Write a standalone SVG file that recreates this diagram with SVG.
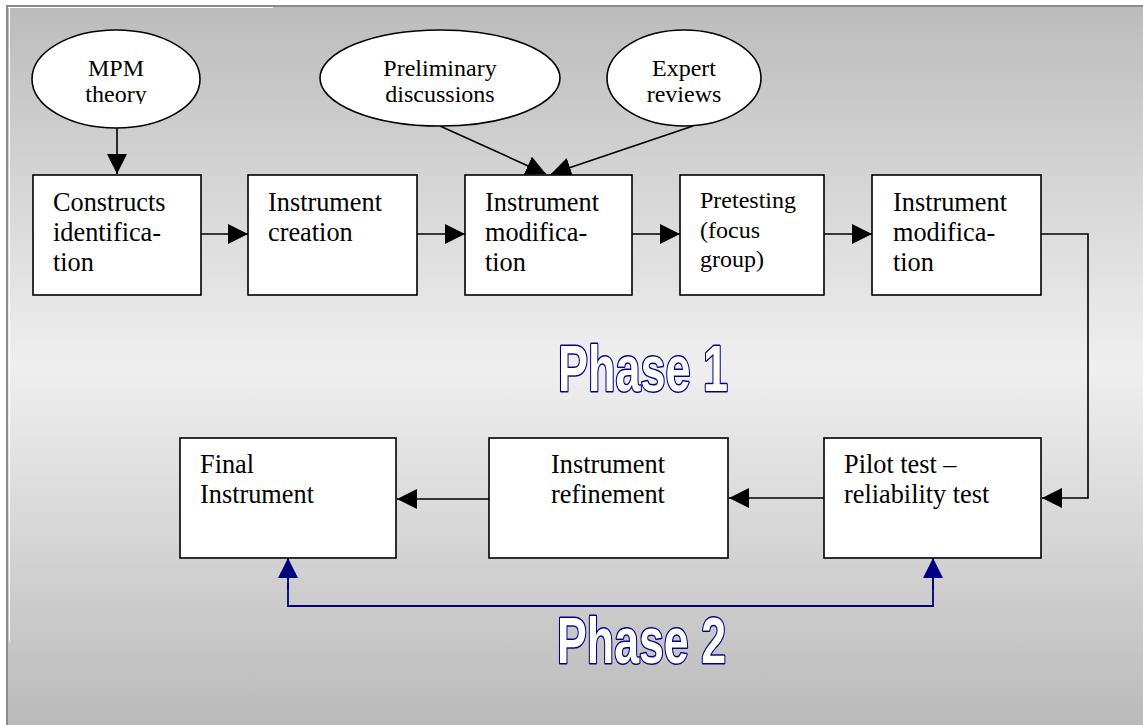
<svg xmlns="http://www.w3.org/2000/svg" width="1143" height="725" viewBox="0 0 1143 725">
  <style>
    .box { fill: #ffffff; stroke: #000000; stroke-width: 1.6; }
    .oval { fill: #ffffff; stroke: #000000; stroke-width: 1.6; }
    .t { font-family: "Liberation Serif", "Times New Roman", serif; font-size: 26.3px; fill: #000000; }
    .ts { font-family: "Liberation Serif", "Times New Roman", serif; font-size: 24px; fill: #000000; }
    .to { font-family: "Liberation Serif", "Times New Roman", serif; font-size: 24px; fill: #000000; text-anchor: middle; }
    .wire { fill: none; stroke: #000000; stroke-width: 1.6; }
    .wire-blue { fill: none; stroke: #000080; stroke-width: 1.8; }
    .phase { font-family: "Liberation Sans", Arial, sans-serif; font-weight: bold; font-size: 64px; fill: #ffffff; stroke: #000080; stroke-width: 3; paint-order: stroke; stroke-linejoin: round; }
  </style>
  <defs>
    <linearGradient id="bg" x1="0" y1="0" x2="0" y2="1">
      <stop offset="0" stop-color="#bcbcbc"/>
      <stop offset="0.5" stop-color="#efefef"/>
      <stop offset="1" stop-color="#bababa"/>
    </linearGradient>
    <marker id="ah" markerUnits="userSpaceOnUse" markerWidth="20" markerHeight="20" refX="20" refY="10" orient="auto">
      <path d="M0,0 L20,10 L0,20 Z" fill="#000000"/>
    </marker>
    <marker id="ahb" markerUnits="userSpaceOnUse" markerWidth="20" markerHeight="20" refX="20" refY="10" orient="auto">
      <path d="M0,0 L20,10 L0,20 Z" fill="#000080"/>
    </marker>
    <clipPath id="mpmclip">
      <rect x="30" y="20" width="180" height="84"/>
    </clipPath>
  </defs>

  <!-- page and shaded panel -->
  <rect x="0" y="0" width="1143" height="725" fill="#ffffff"/>
  <rect x="6" y="5" width="1137" height="720" fill="#8c8c8c"/>
  <rect x="8" y="7" width="1135" height="718" fill="url(#bg)"/>
  <line x1="8" y1="7.5" x2="273" y2="7.5" stroke="#ffffff" stroke-width="1"/>
  <line x1="9.5" y1="8" x2="9.5" y2="642" stroke="#ffffff" stroke-width="1"/>

  <!-- connectors -->
  <g id="connectors">
    <line class="wire" x1="117" y1="128" x2="117" y2="174" marker-end="url(#ah)"/>
    <line class="wire" x1="440" y1="126" x2="546" y2="174" marker-end="url(#ah)"/>
    <line class="wire" x1="693" y1="126" x2="551" y2="174" marker-end="url(#ah)"/>
    <line class="wire" x1="201" y1="234" x2="248" y2="234" marker-end="url(#ah)"/>
    <line class="wire" x1="417" y1="234" x2="465" y2="234" marker-end="url(#ah)"/>
    <line class="wire" x1="632" y1="234" x2="680" y2="234" marker-end="url(#ah)"/>
    <line class="wire" x1="824" y1="234" x2="872" y2="234" marker-end="url(#ah)"/>
    <polyline class="wire" points="1041,234 1088,234 1088,498 1042,498" marker-end="url(#ah)"/>
    <line class="wire" x1="824" y1="498" x2="729" y2="498" marker-end="url(#ah)"/>
    <line class="wire" x1="489" y1="499" x2="397" y2="499" marker-end="url(#ah)"/>
    <polyline class="wire-blue" points="288,558 288,606 933,606 933,558"/>
    <line class="wire-blue" x1="288" y1="590" x2="288" y2="558" marker-end="url(#ahb)"/>
    <line class="wire-blue" x1="933" y1="590" x2="933" y2="558" marker-end="url(#ahb)"/>
  </g>

  <!-- input ovals -->
  <g id="mpm-theory">
    <ellipse class="oval" cx="116" cy="79" rx="84" ry="49"/>
    <g clip-path="url(#mpmclip)">
      <text class="to" x="116" y="76">MPM</text>
      <text class="to" x="116" y="102">theory</text>
    </g>
  </g>
  <g id="preliminary-discussions">
    <ellipse class="oval" cx="440" cy="78" rx="120" ry="48"/>
    <text class="to" x="440" y="76">Preliminary</text>
    <text class="to" x="440" y="102">discussions</text>
  </g>
  <g id="expert-reviews">
    <ellipse class="oval" cx="684" cy="78" rx="77" ry="48"/>
    <text class="to" x="684" y="76">Expert</text>
    <text class="to" x="684" y="102">reviews</text>
  </g>

  <!-- phase 1 steps -->
  <g id="constructs-identification">
    <rect class="box" x="33" y="175" width="168" height="120"/>
    <text class="t" x="53" y="211">Constructs</text>
    <text class="t" x="53" y="241">identifica-</text>
    <text class="t" x="53" y="271">tion</text>
  </g>
  <g id="instrument-creation">
    <rect class="box" x="248" y="175" width="169" height="120"/>
    <text class="t" x="268" y="211">Instrument</text>
    <text class="t" x="268" y="241">creation</text>
  </g>
  <g id="instrument-modification-1">
    <rect class="box" x="465" y="175" width="167" height="120"/>
    <text class="t" x="485" y="211">Instrument</text>
    <text class="t" x="485" y="241">modifica-</text>
    <text class="t" x="485" y="271">tion</text>
  </g>
  <g id="pretesting">
    <rect class="box" x="680" y="175" width="144" height="120"/>
    <text class="ts" x="700" y="208">Pretesting</text>
    <text class="ts" x="700" y="238">(focus</text>
    <text class="ts" x="700" y="267">group)</text>
  </g>
  <g id="instrument-modification-2">
    <rect class="box" x="872" y="175" width="169" height="120"/>
    <text class="t" x="893" y="211">Instrument</text>
    <text class="t" x="893" y="241">modifica-</text>
    <text class="t" x="893" y="271">tion</text>
  </g>

  <!-- phase 2 steps -->
  <g id="final-instrument">
    <rect class="box" x="180" y="438" width="216" height="120"/>
    <text class="t" x="200" y="473">Final</text>
    <text class="t" x="200" y="503">Instrument</text>
  </g>
  <g id="instrument-refinement">
    <rect class="box" x="489" y="438" width="239" height="120"/>
    <text class="t" x="551" y="473">Instrument</text>
    <text class="t" x="551" y="503">refinement</text>
  </g>
  <g id="pilot-test">
    <rect class="box" x="824" y="438" width="217" height="120"/>
    <text class="t" x="844" y="473">Pilot test –</text>
    <text class="t" x="844" y="503">reliability test</text>
  </g>

  <!-- phase titles -->
  <g id="phase-1">
    <text class="phase" x="558" y="391" textLength="170" lengthAdjust="spacingAndGlyphs">Phase 1</text>
  </g>
  <g id="phase-2">
    <text class="phase" x="557" y="663" textLength="169" lengthAdjust="spacingAndGlyphs">Phase 2</text>
  </g>
</svg>
